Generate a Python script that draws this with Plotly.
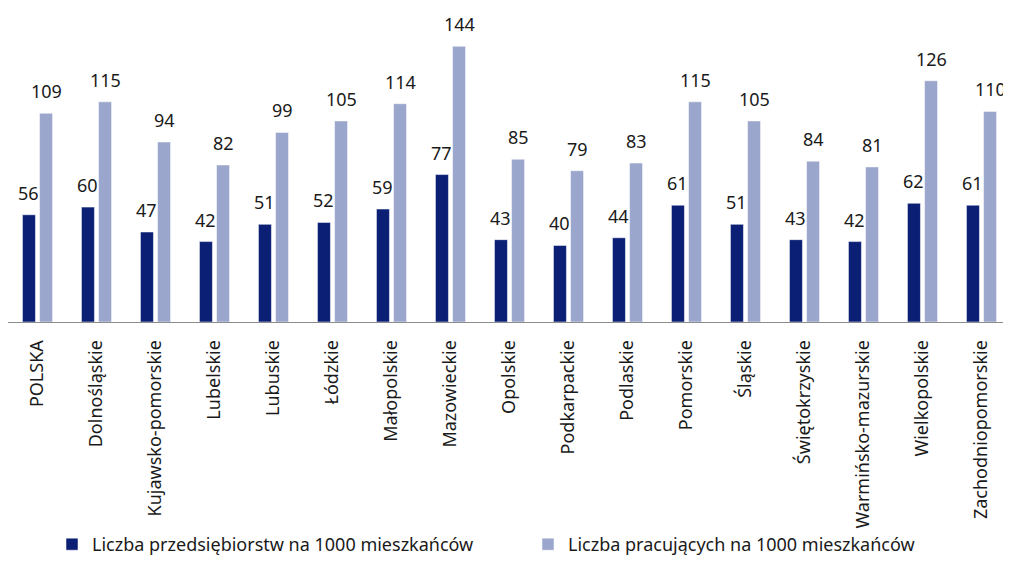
import plotly.graph_objects as go

categories = ["POLSKA", "Dolnośląskie", "Kujawsko-pomorskie", "Lubelskie", "Lubuskie", "Łódzkie",
              "Małopolskie", "Mazowieckie", "Opolskie", "Podkarpackie", "Podlaskie", "Pomorskie",
              "Śląskie", "Świętokrzyskie", "Warmińsko-mazurskie", "Wielkopolskie", "Zachodniopomorskie"]
firms = [56, 60, 47, 42, 51, 52, 59, 77, 43, 40, 44, 61, 51, 43, 42, 62, 61]
workers = [109, 115, 94, 82, 99, 105, 114, 144, 85, 79, 83, 115, 105, 84, 81, 126, 110]
series_names = ["Liczba przedsiębiorstw na 1000 mieszkańców", "Liczba pracujących na 1000 mieszkańców"]
colors = ["#0b1f75", "#9aa6cb"]

FONT = "Noto Sans"
xs = list(range(len(categories)))
off = 0.145
w = 0.22

W, H = 1003, 555  # page body has an 8px margin

fig = go.Figure()
for vals, name, col, sgn, lg in [(firms, series_names[0], colors[0], -1, "legend"),
                                 (workers, series_names[1], colors[1], 1, "legend2")]:
    fig.add_trace(go.Bar(
        x=[x + sgn * off for x in xs], y=vals, width=w, name=name, legend=lg,
        marker=dict(color=col, line=dict(color="white", width=0.5)),
    ))
    for x, v in zip(xs, vals):
        fig.add_annotation(x=x + sgn * off, y=v, text=str(v), showarrow=False,
                           yanchor="bottom", yshift=8,
                           font=dict(family=FONT, size=18, color="#1a1a1a"))

legend_common = dict(orientation="h", xref="container", yref="container",
                     y=0, xanchor="left", yanchor="bottom",
                     bgcolor="rgba(0,0,0,0)", borderwidth=0,
                     font=dict(family=FONT, size=18, color="#1a1a1a"))

fig.update_layout(
    width=W, height=H,
    margin=dict(l=0, r=0, t=0, b=241, autoexpand=False),
    paper_bgcolor="white", plot_bgcolor="white",
    barmode="overlay",
    showlegend=True,
    legend=dict(x=44 / W, **legend_common),
    legend2=dict(x=520 / W, **legend_common),
    xaxis=dict(range=[-0.5, 16.5], tickmode="array", tickvals=xs, ticktext=categories,
               tickangle=-90, showgrid=False, zeroline=False, automargin=False,
               showline=True, linecolor="#8c8c8c", linewidth=1,
               ticks="outside", ticklen=10, tickcolor="rgba(0,0,0,0)",
               tickfont=dict(family=FONT, size=18, color="#1a1a1a")),
    yaxis=dict(range=[0, 164], visible=False, showgrid=False, zeroline=False),
)

fig.write_html("out.html")
